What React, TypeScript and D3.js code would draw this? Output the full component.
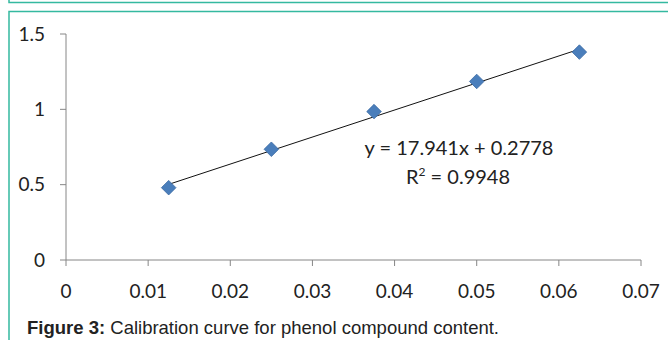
import * as d3 from "d3";

// data
const concentrations = [0.0125, 0.025, 0.0375, 0.05, 0.0625];
const absorbances = [0.48, 0.735, 0.985, 1.185, 1.38];
const xTicks = [0, 0.01, 0.02, 0.03, 0.04, 0.05, 0.06, 0.07];
const yTicks = [0, 0.5, 1, 1.5];
const slope = 17.941;
const intercept = 0.2778;
const equationText = "y = 17.941x + 0.2778";
const r2Text = "0.9948";
const captionBold = "Figure 3:";
const captionRest = " Calibration curve for phenol compound content.";

export default function App() {
  const width = 668;
  const height = 340;
  const marginLeft = 66;
  const marginRight = 27;
  const marginTop = 34;
  const marginBottom = 80;

  const x = d3.scaleLinear().domain([0, 0.07]).range([marginLeft, width - marginRight]);
  const y = d3.scaleLinear().domain([0, 1.5]).range([height - marginBottom, marginTop]);

  const points = concentrations.map((c, i) => ({ c, a: absorbances[i] }));
  const [x0, x1] = d3.extent(concentrations) as [number, number];
  const trend = d3.line<number>()
    .x((d) => x(d))
    .y((d) => y(slope * d + intercept));

  const axisColor = "#868686";
  const teal = "#34b9a0";
  const tickFont = "Lato, 'DejaVu Sans', sans-serif";
  const diamond = d3.symbol().type(d3.symbolDiamond2).size(135)() as string;

  return (
    <svg width={width} height={height} style={{ position: "absolute", left: 0, top: 0, background: "#fff" }}>
      {/* teal frame lines */}
      <path d={`M9,0 V2.5 H${width}`} fill="none" stroke={teal} strokeWidth={1.5} />
      <path d={`M9,${height} V11.5 H${width}`} fill="none" stroke={teal} strokeWidth={1.5} />

      {/* y axis */}
      <line x1={marginLeft} x2={marginLeft} y1={y(1.5)} y2={y(0)} stroke={axisColor} />
      {yTicks.map((t) => (
        <g key={t} transform={`translate(0,${y(t)})`}>
          <line x1={marginLeft - 6} x2={marginLeft} stroke={axisColor} />
          <text x={45} dy="0.35em" textAnchor="end" fontFamily={tickFont} fontSize={19} fill="#222">
            {t}
          </text>
        </g>
      ))}

      {/* x axis */}
      <line x1={x(0)} x2={x(0.07)} y1={y(0)} y2={y(0)} stroke={axisColor} />
      {xTicks.map((t) => (
        <g key={t} transform={`translate(${x(t)},0)`}>
          <line y1={y(0)} y2={y(0) + 6} stroke={axisColor} />
          <text y={y(0) + 38} textAnchor="middle" fontFamily={tickFont} fontSize={19} fill="#222">
            {t}
          </text>
        </g>
      ))}

      {/* linear trend line */}
      <path d={trend([x0, x1]) ?? ""} fill="none" stroke="#111" strokeWidth={1} />

      {/* data points */}
      {points.map((p, i) => (
        <path
          key={i}
          d={diamond}
          transform={`translate(${x(p.c)},${y(p.a)})`}
          fill="#4a7ebb"
          stroke="#3a6aa3"
          strokeWidth={0.8}
        />
      ))}

      {/* regression label */}
      <text x={459} y={155} textAnchor="middle" fontFamily={tickFont} fontSize={20} fill="#222">
        {equationText}
      </text>
      <text x={458} y={184} textAnchor="middle" fontFamily={tickFont} fontSize={20} fill="#222">
        R<tspan dy={-8} fontSize={12}>2</tspan>
        <tspan dy={8}>{" = " + r2Text}</tspan>
      </text>

      {/* caption */}
      <text x={27} y={334} fontFamily="'Liberation Sans', Arial, sans-serif" fontSize={18.5} fill="#222">
        <tspan fontWeight="bold">{captionBold}</tspan>
        {captionRest}
      </text>
    </svg>
  );
}
